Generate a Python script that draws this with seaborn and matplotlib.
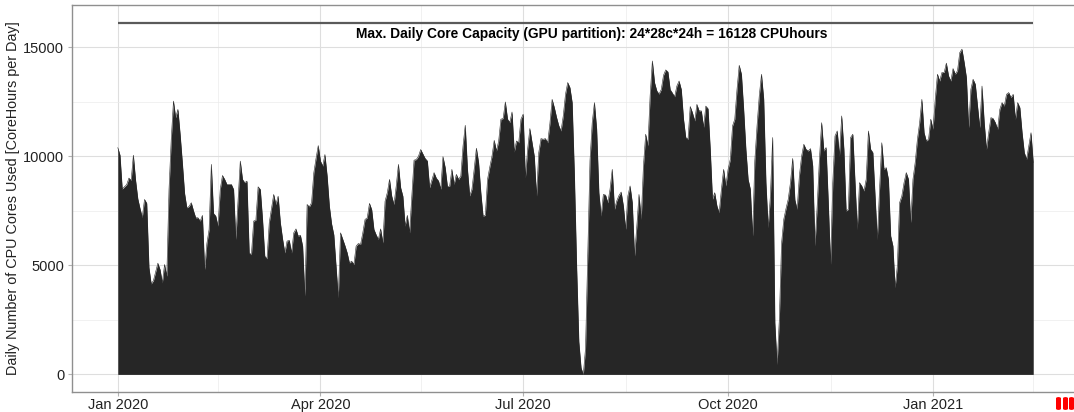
import numpy as np
import pandas as pd
import matplotlib
matplotlib.use("Agg")
import matplotlib.pyplot as plt
import matplotlib.dates as mdates
from matplotlib.patches import FancyBboxPatch
import seaborn as sns

# Daily core-hours used on the GPU partition, starting 2020-01-01
start_date = "2020-01-01"

q1_2020 = [
    10400, 10050, 8500, 8600, 8700, 9000, 8900, 10050, 8900, 8050,
    7600, 7200, 8020, 7850, 4900, 4150, 4300, 4700, 5100, 4800,
    4200, 5040, 4500, 8480, 10770, 12530, 11770, 12150, 11000, 9700,
    8300, 7640, 7700, 7870, 7500, 7180, 7180, 7030, 7290, 4810,
    6000, 6650, 9630, 7380, 7260, 6800, 8480, 9120, 8940, 8710,
    8710, 8710, 8480, 6190, 8020, 9780, 8940, 8790, 8860, 5570,
    5490, 7030, 7070, 8600, 8480, 7100, 5420, 5300, 6950, 7600,
    8250, 7790, 8170, 6950, 6200, 5570, 6110, 6150, 5570, 6490,
    6670, 6340, 6380, 5880, 3590, 7790, 7680, 7870, 9240, 9900,
    10490,
]
q2_2020 = [
    9780, 9550, 10080, 9090, 7710, 6900, 6400, 4960, 3510, 6490,
    6200, 5900, 5570, 5110, 5190, 5040, 5880, 6000, 5960, 6490,
    7100, 7180, 7840, 7560, 6650, 6400, 6190, 6670, 6030, 7940,
    8330, 8940, 8170, 7790, 8630, 9630, 8560, 8170, 6800, 7290,
    6490, 8170, 9820, 9850, 10000, 10310, 10100, 9900, 9785, 8560,
    8900, 9250, 9000, 8870, 8490, 9985, 9480, 8610, 8630, 9400,
    8715, 9170, 8940, 9100, 10470, 11420, 9400, 8180, 8490, 9400,
    10370, 9710, 8330, 7260, 7290, 8940, 9500, 10000, 10730, 10240,
    10700, 11700, 11730, 12490, 11700, 11550, 12030, 10200, 10700, 10620,
    11700,
]
q3_2020 = [
    11930, 9020, 10320, 11270, 10620, 10000, 8180, 10170, 10810, 10780,
    10810, 10620, 11500, 12610, 12230, 11780, 11400, 11160, 11850, 12840,
    13380, 13150, 12460, 9170, 4970, 1500, 300, 0, 1200, 5500,
    9800, 11540, 12460, 11240, 8330, 7260, 8250, 8220, 7870, 8490,
    9400, 7570, 7950, 8200, 8360, 7720, 6650, 8180, 8640, 7870,
    5430, 6760, 8250, 7110, 9560, 11010, 10480, 12770, 14370, 13370,
    13000, 12850, 13060, 13710, 13960, 13870, 13060, 12900, 12730, 13220,
    13450, 13060, 11700, 10860, 10780, 12280, 12000, 11620, 12380, 12080,
    12080, 11330, 12300, 12180, 10320, 8030, 8330, 7720, 7410, 8490,
    9400, 8640,
]
q4_2020 = [
    9400, 9860, 11390, 11700, 13060, 14170, 13760, 12150, 10320, 8940,
    8490, 6350, 9800, 11390, 12770, 13760, 12620, 8790, 6730, 8180,
    10860, 2370, 460, 2500, 6000, 7110, 7600, 8030, 8790, 9900,
    8000, 7570, 9100, 10000, 10550, 10320, 10240, 10350, 9560, 5890,
    7720, 9860, 11540, 10240, 10400, 7870, 5050, 8790, 10930, 11160,
    10010, 11850, 10320, 7490, 7570, 10860, 11010, 8790, 6650, 8790,
    8640, 8410, 8940, 11160, 10320, 10170, 8180, 6190, 8490, 10620,
    9400, 9480, 8940, 6350, 5890, 3980, 5000, 7870, 8180, 8790,
    9250, 8940, 6960, 8940, 9710, 10780, 11540, 12610, 11080, 10700,
    10780, 11700,
]
q1_2021 = [
    11240, 12610, 13760, 13450, 13840, 13840, 14270, 13680, 13450, 14020,
    13760, 13920, 14750, 14910, 14300, 13610, 11310, 13070, 13530, 13300,
    12300, 11310, 13220, 11540, 10320, 11080, 11770, 11730, 11540, 11240,
    12150, 12460, 12300, 12840, 12920, 12690, 12840, 11700, 12460, 12230,
    11080, 10170, 9860, 10480, 11080, 9710,
]

core_hours = q1_2020 + q2_2020 + q3_2020 + q4_2020 + q1_2021
max_capacity = 24 * 28 * 24  # 16128 core-hours per day
capacity_label = "Max. Daily Core Capacity (GPU partition): 24*28c*24h = 16128 CPUhours"
label_date = "2020-08-01"
x_tick_labels = ["Jan 2020", "Apr 2020", "Jul 2020", "Oct 2020", "Jan 2021"]
x_tick_dates = ["2020-01-01", "2020-04-01", "2020-07-01", "2020-10-01", "2021-01-01"]
y_ticks = [0, 5000, 10000, 15000]

df = pd.DataFrame({
    "date": pd.date_range(start_date, periods=len(core_hours), freq="D"),
    "hours": core_hours,
})

sns.set_theme(style="white")
plt.rcParams["font.family"] = ["Liberation Sans", "DejaVu Sans"]

fig = plt.figure(figsize=(10.74, 4.12), dpi=100)
ax = fig.add_axes([72 / 1074, 20 / 412, 1007 / 1074, 387 / 412])

fill_col = "#262626"
ax.fill_between(df["date"], 0, df["hours"], color=fill_col, linewidth=0, zorder=3)
sns.lineplot(data=df, x="date", y="hours", color=fill_col, linewidth=0.4, ax=ax, zorder=3)

# capacity reference line and its caption
d0, d1 = df["date"].iloc[0], df["date"].iloc[-1]
ax.plot([d0, d1], [max_capacity, max_capacity], color="#5a5a5a", linewidth=1.6, zorder=4,
        solid_capstyle="butt")
ax.text(pd.Timestamp(label_date), max_capacity - 180, capacity_label, ha="center", va="top",
        fontsize=9.9, fontweight="bold", color="black", zorder=5)

span = (d1 - d0) * 0.05
ax.set_xlim(d0 - span, d1 + span)
ax.set_ylim(-0.05 * max_capacity, 1.05 * max_capacity)

# grid: major + minor (midpoints)
ax.set_yticks(y_ticks)
ax.set_yticks([2500, 7500, 12500], minor=True)
xt = pd.to_datetime(x_tick_dates)
ax.set_xticks(xt)
ax.set_xticklabels(x_tick_labels)
minor_x = pd.to_datetime(["2020-02-15", "2020-05-16", "2020-08-16", "2020-11-16", "2021-02-15"])
ax.set_xticks(minor_x, minor=True)
ax.grid(which="major", color="#dedede", linewidth=0.8, zorder=0)
ax.grid(which="minor", color="#ebebeb", linewidth=0.5, zorder=0)
ax.set_axisbelow(True)

ax.tick_params(axis="both", which="major", length=3.0, width=0.8, color="#b3b3b3",
               labelsize=10.5, labelcolor="#222222", direction="out")
ax.tick_params(axis="x", which="major", pad=1.0)
ax.tick_params(axis="y", which="major", pad=2.5)
ax.tick_params(axis="both", which="minor", length=0)
ax.tick_params(axis="x", bottom=True)
ax.tick_params(axis="y", left=True)

for s in ax.spines.values():
    s.set_color("#8f8f8f")
    s.set_linewidth(1.0)

ax.set_xlabel("")
ax.set_ylabel("Daily Number of CPU Cores Used [CoreHours per Day]", fontsize=10.4,
              color="#222222", labelpad=2)

# small red markers at the bottom-right edge
for x0 in (1056, 1063, 1069):
    fig.patches.append(FancyBboxPatch((x0 / 1074, 2 / 412), 5 / 1074, 13 / 412,
                                      boxstyle="round,pad=0,rounding_size=0.003",
                                      transform=fig.transFigure, color="#ff0000",
                                      linewidth=0))

fig.savefig("out.png", dpi=100, facecolor="white")
